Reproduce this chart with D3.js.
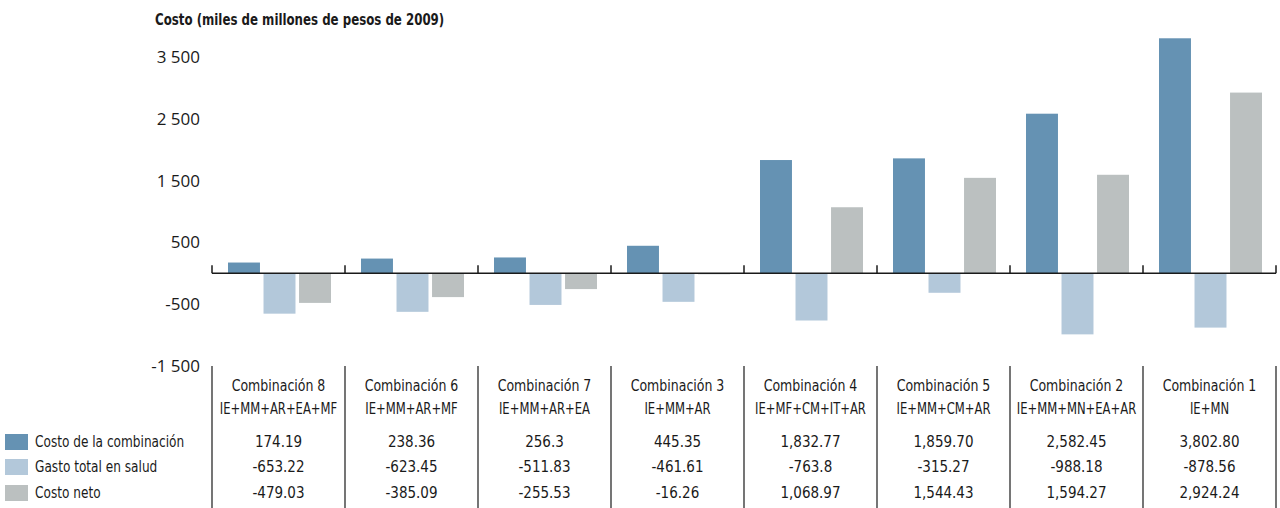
<!DOCTYPE html>
<html>
<head>
<meta charset="utf-8">
<script src="https://cdn.jsdelivr.net/npm/d3@7"></script>
<style>
  body { margin: 0; background: #fff; }
  text { font-family: 'Liberation Sans Narrow', 'DejaVu Sans Condensed', sans-serif; fill: #1a1a1a; }
  .tick-label { font-family: 'Open Sans', 'DejaVu Sans', sans-serif; }
</style>
</head>
<body>
<div id="viz"></div>
<script>
const combos = ['Combinación 8', 'Combinación 6', 'Combinación 7', 'Combinación 3',
                'Combinación 4', 'Combinación 5', 'Combinación 2', 'Combinación 1'];
const codes = ['IE+MM+AR+EA+MF', 'IE+MM+AR+MF', 'IE+MM+AR+EA', 'IE+MM+AR',
               'IE+MF+CM+IT+AR', 'IE+MM+CM+AR', 'IE+MM+MN+EA+AR', 'IE+MN'];
const seriesNames = ['Costo de la combinación', 'Gasto total en salud', 'Costo neto'];
const costo = [174.19, 238.36, 256.3, 445.35, 1832.77, 1859.70, 2582.45, 3802.80];
const gasto = [-653.22, -623.45, -511.83, -461.61, -763.8, -315.27, -988.18, -878.56];
const neto  = [-479.03, -385.09, -255.53, -16.26, 1068.97, 1544.43, 1594.27, 2924.24];
const costoLbl = ['174.19', '238.36', '256.3', '445.35', '1,832.77', '1,859.70', '2,582.45', '3,802.80'];
const gastoLbl = ['-653.22', '-623.45', '-511.83', '-461.61', '-763.8', '-315.27', '-988.18', '-878.56'];
const netoLbl  = ['-479.03', '-385.09', '-255.53', '-16.26', '1,068.97', '1,544.43', '1,594.27', '2,924.24'];
const yTicks = [-1500, -500, 500, 1500, 2500, 3500];
const colors = ['#6592b3', '#b3c8da', '#bbc0c0'];

const W = 1280, H = 508;
const svg = d3.select('#viz').append('svg').attr('width', W).attr('height', H);

const x = d3.scaleBand().domain(combos).range([212, 1276]);
const xs = d3.scaleBand().domain(seriesNames).range([16, x.bandwidth() - 14]).paddingInner(0.1);
const y = d3.scaleLinear().domain([-1500, 3500]).range([366, 57]);

const loc = d3.formatLocale({ decimal: '.', thousands: ' ', grouping: [3], currency: ['', ''], minus: '-' });
const fmt = loc.format(',d');

// narrow text helper: the reference face is condensed, so squeeze horizontally
function narrow(sel, px, py, sx) {
  return sel.attr('transform', (d, i) => `translate(${px(d, i)},${py(d, i)}) scale(${sx},1)`);
}

// title
narrow(svg.append('text'), () => 155, () => 25, 0.82)
  .style('font-size', '16px').style('font-weight', 'bold')
  .text('Costo (miles de millones de pesos de 2009)');

// y tick labels (no axis line)
svg.selectAll('.tick-label').data(yTicks).join('text')
  .attr('class', 'tick-label')
  .attr('x', 200).attr('y', d => y(d))
  .attr('dy', '0.35em')
  .attr('text-anchor', 'end')
  .style('font-size', '17px')
  .text(d => fmt(d));

// bars
const data = combos.map((c, i) => ({ combo: c, vals: [costo[i], gasto[i], neto[i]] }));
const groups = svg.selectAll('.grp').data(data).join('g')
  .attr('class', 'grp')
  .attr('transform', d => `translate(${x(d.combo)},0)`);
groups.selectAll('rect').data(d => d.vals.map((v, j) => ({ v, s: seriesNames[j], j }))).join('rect')
  .attr('x', d => xs(d.s))
  .attr('width', xs.bandwidth())
  .attr('y', d => Math.min(y(d.v), y(0)))
  .attr('height', d => Math.abs(y(d.v) - y(0)))
  .attr('fill', d => colors[d.j]);

// zero axis with upward ticks
const bounds = combos.map(c => x(c)).concat([1276]);
const axis = svg.append('g').attr('transform', `translate(0,${y(0)})`);
axis.append('line').attr('x1', 212).attr('x2', 1276).attr('stroke', '#1a1a1a').attr('stroke-width', 1.5);
axis.selectAll('.btick').data(bounds).join('line')
  .attr('class', 'btick')
  .attr('x1', d => d).attr('x2', d => d)
  .attr('y1', 0).attr('y2', -8)
  .attr('stroke', '#1a1a1a').attr('stroke-width', 1.5);

// table separators
svg.selectAll('.sep').data(bounds).join('line')
  .attr('class', 'sep')
  .attr('x1', d => d).attr('x2', d => d)
  .attr('y1', 366).attr('y2', H)
  .attr('stroke', '#1a1a1a').attr('stroke-width', 1.2);

// table headers
const cx = c => x(c) + x.bandwidth() / 2;
narrow(svg.selectAll('.hdr1').data(combos).join('text').attr('class', 'hdr1'),
       d => cx(d), () => 391, 0.93)
  .attr('text-anchor', 'middle').style('font-size', '15px')
  .text(d => d);
narrow(svg.selectAll('.hdr2').data(codes).join('text').attr('class', 'hdr2'),
       (d, i) => cx(combos[i]), () => 414, 0.86)
  .attr('text-anchor', 'middle').style('font-size', '15px')
  .text(d => d);

// table rows with legend
const rows = [costoLbl, gastoLbl, netoLbl];
const rowY = [442, 467, 493];
rows.forEach((lbls, r) => {
  svg.append('rect')
    .attr('x', 5).attr('y', rowY[r] - 8).attr('width', 23).attr('height', 16)
    .attr('fill', colors[r]);
  narrow(svg.append('text'), () => 35, () => rowY[r], 0.9)
    .attr('dy', '0.35em')
    .style('font-size', '15px')
    .text(seriesNames[r]);
  svg.selectAll(`.row${r}`).data(lbls).join('text')
    .attr('class', `row${r}`)
    .attr('x', (d, i) => cx(combos[i])).attr('y', rowY[r]).attr('dy', '0.35em')
    .attr('text-anchor', 'middle').style('font-size', '15px')
    .text(d => d);
});
</script>
</body>
</html>
